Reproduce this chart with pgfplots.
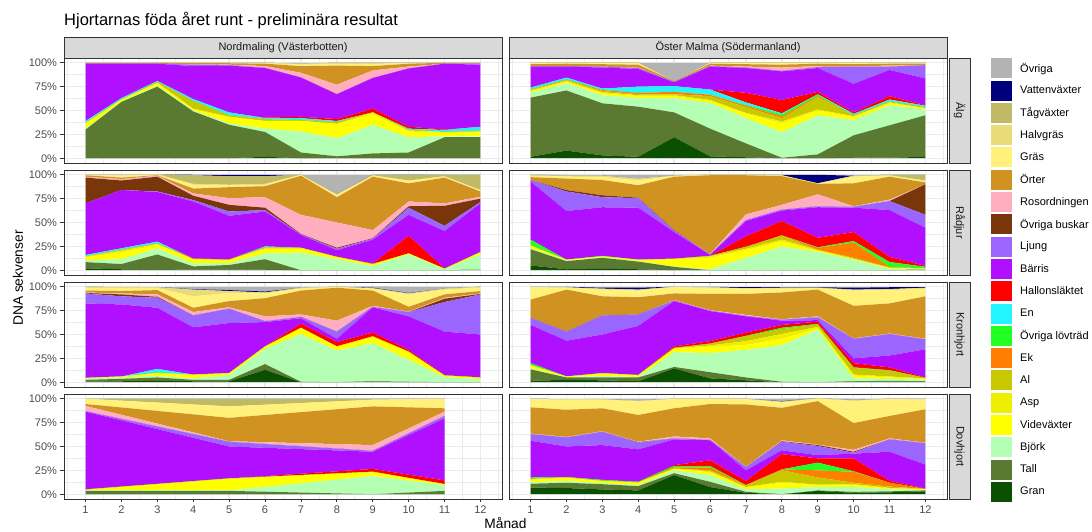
\documentclass[border=0pt]{standalone}
\usepackage{pgfplots}
\pgfplotsset{compat=1.18}
\usepackage{pgfplotstable}
\usepackage{fontspec}
\setmainfont{Liberation Sans}

% food categories, bottom of the stack first
\definecolor{cGr}{HTML}{0B5000}
\definecolor{cTa}{HTML}{5A7A32}
\definecolor{cBj}{HTML}{B4FFB4}
\definecolor{cVi}{HTML}{FFFF00}
\definecolor{cAs}{HTML}{EEEE00}
\definecolor{cAl}{HTML}{C8C800}
\definecolor{cEk}{HTML}{FF7F00}
\definecolor{cLo}{HTML}{22FF22}
\definecolor{cEn}{HTML}{22F5FF}
\definecolor{cHa}{HTML}{FF0000}
\definecolor{cBa}{HTML}{B010FF}
\definecolor{cLj}{HTML}{9B66FF}
\definecolor{cBu}{HTML}{78360A}
\definecolor{cRo}{HTML}{FFAEC0}
\definecolor{cOr}{HTML}{D09220}
\definecolor{cGs}{HTML}{FFF17A}
\definecolor{cHg}{HTML}{E8DC78}
\definecolor{cTg}{HTML}{C0B966}
\definecolor{cVa}{HTML}{00007F}
\definecolor{cOv}{HTML}{B3B3B3}
\definecolor{gridc}{HTML}{EBEBEB}
\definecolor{framec}{HTML}{333333}
\definecolor{stripc}{HTML}{D9D9D9}
\definecolor{tickc}{HTML}{4D4D4D}

% share of DNA sequences (%) per month
% Gr=Gran Ta=Tall Bj=Björk Vi=Videväxter As=Asp Al=Al Ek=Ek Lo=Övriga lövträd
% En=En Ha=Hallonsläktet Ba=Bärris Lj=Ljung Bu=Övriga buskar Ro=Rosordningen
% Or=Örter Gs=Gräs Hg=Halvgräs Tg=Tågväxter Va=Vattenväxter Ov=Övriga
\pgfplotstableread{
m  Gr  Ta   Bj  Vi  As  Al  Ek  Lo  En  Ha  Ba   Lj  Bu  Ro  Or  Gs  Hg  Tg  Va  Ov
1  0   30   1   5   1   0   0   0   2   0   60   0   0   0   1   0   0   0   0   0
2  0   59   0.5 2   0   0   0   0   1.5 0   36   0   0   0   1   0   0   0   0   0
3  0   75   1   2.5 0.5 1   0   0   1   0   18   0   0   0   1   0   0   0   0   0
4  0   49   1   1   1   8   0   0   2   0   34.5 1.5 0   0.5 1   0.5 0   0   0   0
5  0   35   1.5 6   1   1.5 0   0   3   0   49   0.5 0   0.5 1.5 0.5 0   0   0   0
6  1.5 26   3.5 8   0   2   0   0   1   0.5 52   0   0   2   2.5 1   0   0   0   0
7  0   6    22  11  0   1   0   0   2   1.5 41   0   0   5   7   1.5 1   0   0   1
8  0   2    19  15  0   2   0   0   1   2   26   0   0   10  20  1.5 1.5 0   0   0
9  0   5    30  11  2   0   0   0   0   4   32   0   0   8   4.5 2   1.5 0   0   0
10 0   6    16  6   1   1   0   0   1   2   61   0   0   2   3   1   0   0   0   0
11 0   22   1   3.5 1   0   0   0   2   0.5 69   0   0   0   1   0   0   0   0   0
12 0   22   1   4   1   1   0   0   4   0   65   1   0   0   1   0   0   0   0   0
}\tAlgN
\pgfplotstableread{
m  Gr  Ta   Bj  Vi  As  Al  Ek  Lo  En  Ha  Ba   Lj  Bu  Ro  Or  Gs  Hg  Tg  Va  Ov
1  1.5 62   5   1.5 1   1   0   0   2   0   22   0.5 0   0   2   1.5 0   0   0   0
2  8   63   7.5 1.5 1   1   0.5 0   2   0   11.5 0.5 0   0   2.5 1   0   0   0   0
3  3   54.5 8.5 2   1   1.5 1   0   1.5 0   22   1   0   0   2.5 1.5 0   0   0   0
4  1.5 52.5 9   2   1   1   1.5 0   6.5 0   18.5 1   0   0.5 3   2   0   0   0   0
5  22  26   15  2   1   1   2.5 0   6   0   4    0.5 0   0   0.5 0   0   0   0   19.5
6  2   29   27  2   1   4   1.5 0   5.5 0   24   0.5 0   0.5 2   1   0   0   0   0
7  1   14.5 26.5 4.5 1  6   1.5 1   2.5 10  26   0.5 0   1   2.5 1.5 0   0   0   0
8  0   0.5  27  9   2   3.5 2   2   1   14  30   0.5 0   3.5 3   2   0   0   0   0
9  0   4    41  5   1   13  1   1.5 0.5 2.5 25   1   0   1   2.5 1   0   0   0   0
10 0.5 23.5 16  3   1   1   0   0   1.5 1.5 30   18  0   0.5 2   1.5 0   0   0   0
11 0.5 34   21  2   1   1   0   0   2   3.5 27.5 3.5 0   1   2   1   0   0   0   0
12 1.5 43.5 6   1   0.5 1   0   0   1.5 0.5 28   14  0   0   1.5 1   0   0   0   0
}\tAlgO
\pgfplotstableread{
m  Gr  Ta   Bj  Vi  As  Al  Ek  Lo  En  Ha  Ba   Lj  Bu  Ro  Or  Gs  Hg  Tg  Va  Ov
1  2   6.5  2   3   1   0   0   0   1.5 0   54   0   27  1   1.5 0.5 0   0   0   0
2  1   5.5  5   7   2   1   0   0   1.5 0   61   0   10  1.5 1.5 2   1   0   0   0
3  1   15.5 6.5 3.5 1   0.5 0   0   2   0   52   0.5 15.5 1  0.5 0.5 0.5 0   0   0
4  0.5 3.5  3   4   0.5 0.5 0   0   0   0.5 59.5 1.5 4.5 2.5 5   4   1   9   0.5 0
5  0.5 5    2   3   0.5 0   0   0   0   0.5 45.5 4.5 7   7   11.5 2  0.5 9   1.5 0
6  0.5 11   6   4.5 1   1   0   0   1   0   36.5 1.5 2.5 11  11.5 1.5 1  8   1.5 0
7  0   0    18.5 4  1   0   0   0   0   0   13.5 0.5 0.5 20  41  1   0   0   0   0
8  0   0    11.5 2  0.5 0   0   0   0   0   7    1.5 1   26.5 26.5 2.5 0.5 0 0  20.5
9  0   0    4.5 1.5 0.5 0   0   0   0   0.5 25   1   0.5 8.5 56  1   0.5 0.5 0   0
10 0   0    16.5 1  0   0   0   0   0   18.5 22  7.5 1.5 5   19  2.5 0.5 5.5 0.5 0.5
11 0   0    1   0.5 0   0   0   0   0   0.5 39   5.5 21  2.5 27  1   0.5 1.5 0   0
12 0.5 0    16  2   0.5 0   0   0   0   0   51   1.5 3.5 2   5.5 1   0.5 16  0   0
}\tRadN
\pgfplotstableread{
m  Gr  Ta   Bj  Vi  As  Al  Ek  Lo  En  Ha  Ba   Lj  Bu  Ro  Or  Gs  Hg  Tg  Va  Ov
1  5   17   1   2   1   0   0   6   0   0   61   1.5 0   0   3   1.5 0.5 0   0   1
2  1   8.5  0.5 1   0   0   0   0   0   0   51   20.5 1.5 0  12  2   1   0   0   1
3  1.5 11.5 0.5 1   0   0   0   0.5 0   0   51   10.5 2  0   16  3   1.5 0   0   1
4  1   8    0.5 1.5 0   0   0   0   0   0   54.5 10  0.5 0   13  5   2   0   0   4
5  0   3.5  0.5 7.5 0.5 0   0   0   0   0   28   1.5 0.5 0   56  1   0   0   0   1
6  0   0    1   12  1.5 0.5 0   0   0   0   1    0.5 0   0.5 82.5 0.5 0  0   0   0
7  0   0    13  8   1.5 2   0   0   0   11  16   1   0   6   41  0.5 0   0   0   0
8  0   0    25  5   2   4   0.5 0   0   15  11   1   0   5   30  0.5 0.5 0   0.5 0
9  0   0    19  1   1   0.5 2   0.5 0   10  32   1   0   12.5 11 0.5 0   0   9   0
10 0   0    11  0.5 0.5 1   16  1.5 0   9.5 25.5 1   0   0.5 24  7   1   0   0   1
11 0   0    1.5 0.5 0.5 0.5 0.5 5   0   5.5 49   9.5 0   1.5 24  1   0.5 0.5 0   0
12 0.5 0    1   0.5 0   0   0   1.5 0   1   40   13.5 32 0   2   1   1   6   0   0
}\tRadO
\pgfplotstableread{
m  Gr  Ta   Bj  Vi  As  Al  Ek  Lo  En  Ha  Ba   Lj  Bu  Ro  Or  Gs  Hg  Tg  Va  Ov
1  0.5 2    1.5 0.5 0   0   0   0   0   0   78   10.5 0.5 0.5 2  3   1   0   0   0
2  1   2.5  1.5 1   0   0   0   0   0   0   75.5 8.5 2   1   2.5 3   1   0   0   0.5
3  1.5 3.5  1.5 2.5 1   0   0   0   4   0   64   10.5 1  2.5 4.5 2   1   0   0   0
4  1   1.5  1.5 3.5 0.5 0   0   0   0   0   49.5 12.5 0  3.5 4.5 12  7   0   0.5 2.5
5  1   1.5  5   2   0   0   0   0   0   0   52.5 15  0   1.5 6.5 8.5 2   0   1   3.5
6  13  6    16  2   0.5 0   0   0   0   0   25.5 1   0   5   19  5   1   0   1   5
7  0   0.5  50  6   0.5 0   0   0   0   4.5 5.5  1.5 0   2.5 25  2   1   0   0   1
8  0   0    33  4   0.5 0   0   0   0   4.5 3.5  7.5 0   11.5 34.5 1 0   0   0   0
9  0.5 0.5  40  5.5 1.5 0   0   0   0   4   26.5 0.5 0   1   16  2   0.5 0   0.5 1.5
10 0   0.5  23  7.5 1   0   0   0   0   2   35   4.5 0   0.5 5   13  1   0   0.5 6.5
11 0   0    5.5 1.5 0   0   0   0   0   0.5 45.5 31  3.5 1   3.5 5   1   0   0   2
12 0   0    3   1.5 0.5 0   0   0   0   0   45   42  0.5 0.5 2.5 3.5 1   0   0   0
}\tKroN
\pgfplotstableread{
m  Gr  Ta   Bj  Vi  As  Al  Ek  Lo  En  Ha  Ba   Lj  Bu  Ro  Or  Gs  Hg  Tg  Va  Ov
1  1.5 12   1   3   0.5 0   0   2   0   0   40   7.5 0   0   19  13  0.5 0   0   0
2  2.5 2.5  0.5 0.5 0   0   0   0   0   0   37.5 9.5 0   0   44  2   0.5 0   0.5 0
3  2   3    1.5 2.5 0.5 0   0   0   0   0   40.5 20  0   0   20  7   1   0   1   1
4  1   4    0.5 1.5 0.5 0   0   0   0   0   51.5 12  0   0   18  7   1   0   2   1
5  14.5 1.5 15.5 3.5 0.5 0.5 0  0   0   1.5 47.5 0.5 0   0.5 7   6.5 0.5 0   0   0
6  4   6.5  20  6.5 1.5 1.5 0.5 0   0   2.5 31.5 0.5 0   0.5 17  6.5 0.5 0   0.5 0
7  2   3    29  5   4   5   0   0.5 0   3.5 17   0.5 0   1   22  5.5 0.5 0   1   0.5
8  0   0.5  38.5 6.5 5  5   0   1.5 0   3   4.5  1   0   0.5 28  4   1   0   0.5 0.5
9  0   0    55  1.5 1.5 2.5 0   0.5 0   2.5 1.5  3   0   1   28  1.5 0.5 0   0.5 0.5
10 0.5 0.5  3   3   1   7   0   0.5 0   4.5 5    20.5 0  0.5 34  16  1   0   2   1
11 0.5 1    2   1.5 1   6   0   0.5 0   3   12.5 22.5 0  0.5 31.5 14 1   0   2   0.5
12 0.5 0.5  1.5 1   0.5 0.5 0   0   0   0.5 29.5 10.5 0  0.5 44.5 8  1   0   0.5 0.5
}\tKroO
\pgfplotstableread{
m  Gr  Ta   Bj  Vi  As  Al  Ek  Lo  En  Ha  Ba   Lj  Bu  Ro  Or  Gs  Hg  Tg  Va  Ov
1  0   3.5  0.5 0.5 0.5 0   0   0   0   0   81.5 0.5 0   5.5 2   5.5 0   0   0   0
5  0   3.5  0.5 12  0.5 0   0   0   0   0   33.5 5   0   0.5 24.5 12 0   8   0   0
9  0   0    19  4   0.5 0   0   0   0   3   18   1   0   6   40.5 7  0   1   0   0
11 0   3.5  6   1   0   0   0   0   0   4   65   2.5 0   4.5 3.5 10  0   0   0   0
}\tDovN
\pgfplotstableread{
m  Gr  Ta   Bj  Vi  As  Al  Ek  Lo  En  Ha  Ba   Lj  Bu  Ro  Or  Gs  Hg  Tg  Va  Ov
1  7   4    1.5 2.5 1   0   0   1.5 0   0   38.5 7   0   0.5 27.5 8.5 0.5 0  0   0
2  6.5 5.5  2   3   0.5 0.5 0   0   0   0   32   9.5 0   0.5 28.5 10.5 0.5 0 0   0
3  5   5.5  1   2   0.5 0   0   1   0   0   36.5 14  0   0.5 24  9   0.5 0   0   0.5
4  4   4.5  1   2.5 0.5 0   0   0.5 0   0   34   7   0.5 0.5 28  14  1   0   0   2
5  20  2    3   1.5 0.5 0   1   1.5 0   1   27   1   0   2   29.5 10 0   0   0   0
6  7.5 5.5  7   3   1   1   3   1.5 0   6   21   0.5 0   1.5 36  5.5 0   0   0   0
7  1.5 1    2.5 2   0.5 2   0   0   0   4.5 11   3.5 0   0.5 65  5.5 0.5 0   0   0
8  0   0    6   6   1   12  1   0   0   16  4    9   0.5 1   34  5.5 1   0   0.5 2.5
9  3.5 0.5  3.5 2   0.5 7.5 7.5 8   0   4.5 3.5  9.5 1   0.5 45.5 2.5 0.5 0  0   0
10 1.5 1    5   2   1   1.5 11.5 0.5 0  13.5 5   1   1   2   28  23  1   0   0   1.5
11 2   1    2   1   0.5 1.5 4   0   0   2   30.5 13  0   1   23.5 17.5 0.5 0 0   0
12 3   1    0.5 0.5 0.5 0   0   0   0   0.5 25   22.5 0  0.5 35  10  1   0   0   0
}\tDovO

% all twenty categories of one panel, stacked from Gran upwards
\newcommand\stackall[1]{%
  \addplot[draw=none,fill=cGr] table[x=m,y=Gr]{#1} \closedcycle;
  \addplot[draw=none,fill=cTa] table[x=m,y=Ta]{#1} \closedcycle;
  \addplot[draw=none,fill=cBj] table[x=m,y=Bj]{#1} \closedcycle;
  \addplot[draw=none,fill=cVi] table[x=m,y=Vi]{#1} \closedcycle;
  \addplot[draw=none,fill=cAs] table[x=m,y=As]{#1} \closedcycle;
  \addplot[draw=none,fill=cAl] table[x=m,y=Al]{#1} \closedcycle;
  \addplot[draw=none,fill=cEk] table[x=m,y=Ek]{#1} \closedcycle;
  \addplot[draw=none,fill=cLo] table[x=m,y=Lo]{#1} \closedcycle;
  \addplot[draw=none,fill=cEn] table[x=m,y=En]{#1} \closedcycle;
  \addplot[draw=none,fill=cHa] table[x=m,y=Ha]{#1} \closedcycle;
  \addplot[draw=none,fill=cBa] table[x=m,y=Ba]{#1} \closedcycle;
  \addplot[draw=none,fill=cLj] table[x=m,y=Lj]{#1} \closedcycle;
  \addplot[draw=none,fill=cBu] table[x=m,y=Bu]{#1} \closedcycle;
  \addplot[draw=none,fill=cRo] table[x=m,y=Ro]{#1} \closedcycle;
  \addplot[draw=none,fill=cOr] table[x=m,y=Or]{#1} \closedcycle;
  \addplot[draw=none,fill=cGs] table[x=m,y=Gs]{#1} \closedcycle;
  \addplot[draw=none,fill=cHg] table[x=m,y=Hg]{#1} \closedcycle;
  \addplot[draw=none,fill=cTg] table[x=m,y=Tg]{#1} \closedcycle;
  \addplot[draw=none,fill=cVa] table[x=m,y=Va]{#1} \closedcycle;
  \addplot[draw=none,fill=cOv] table[x=m,y=Ov]{#1} \closedcycle;
}

\pgfplotsset{
  panel/.style={
    width=438pt, height=105pt, scale only axis,
    anchor=south west,
    xmin=0.4, xmax=12.6, ymin=-5, ymax=105,
    stack plots=y,
    axis line style={draw=framec, line width=0.9pt},
    xtick={1,...,12}, ytick={0,25,50,75,100},
    minor xtick={0.5,1.5,...,12.5},
    minor ytick={12.5,37.5,62.5,87.5},
    grid=both,
    major grid style={draw=gridc, line width=1.4pt},
    minor grid style={draw=gridc, line width=0.7pt},
    tick align=outside, tick pos=left,
    major tick length=3.5pt, minor tick length=0pt,
    xticklabels={}, yticklabels={},
    xtick style={draw=none}, ytick style={draw=none},
    ticklabel style={font=\fontsize{11}{13}\selectfont, text=tickc},
  },
  leftcol/.style={
    yticklabels={0\%,25\%,50\%,75\%,100\%},
    ytick style={draw=framec, line width=0.9pt},
  },
  bottomrow/.style={
    xticklabels={1,2,3,4,5,6,7,8,9,10,11,12},
    xtick style={draw=framec, line width=0.9pt},
  },
}

\begin{document}
\begin{tikzpicture}[x=1pt,y=1pt]
\path[use as bounding box] (0,0) rectangle (1092,532);

% row 1: Älg
\begin{axis}[panel, leftcol, at={(64pt,369pt)}]
\stackall{\tAlgN}
\end{axis}
\begin{axis}[panel, at={(509pt,369pt)},
  legend style={at={(1.1005,1)}, anchor=north west, draw=none, fill=none,
    inner xsep=0pt, inner ysep=0pt, row sep=2.3pt, column sep=8pt,
    nodes={inner sep=0pt, font=\fontsize{11}{13}\selectfont, text=black}},
  legend cell align=left, reverse legend,
  legend image code/.code={\fill[#1] (0pt,-10pt) rectangle (21pt,10pt);}]
\stackall{\tAlgO}
\legend{Gran,Tall,Björk,Videväxter,Asp,Al,Ek,Övriga lövträd,En,Hallonsläktet,Bärris,Ljung,Övriga buskar,Rosordningen,Örter,Gräs,Halvgräs,Tågväxter,Vattenväxter,Övriga}
\end{axis}

% row 2: Rådjur
\begin{axis}[panel, leftcol, at={(64pt,257pt)}]
\stackall{\tRadN}
\end{axis}
\begin{axis}[panel, at={(509pt,257pt)}]
\stackall{\tRadO}
\end{axis}

% row 3: Kronhjort
\begin{axis}[panel, leftcol, at={(64pt,145pt)}]
\stackall{\tKroN}
\end{axis}
\begin{axis}[panel, at={(509pt,145pt)}]
\stackall{\tKroO}
\end{axis}

% row 4: Dovhjort
\begin{axis}[panel, leftcol, bottomrow, at={(64pt,33pt)}]
\stackall{\tDovN}
\end{axis}
\begin{axis}[panel, bottomrow, at={(509pt,33pt)}]
\stackall{\tDovO}
\end{axis}

% facet strips
\tikzset{strip/.style={draw=framec, line width=0.9pt, fill=stripc, inner sep=0pt,
  font=\fontsize{11}{13}\selectfont, text=black!90}}
\node[strip, minimum width=438pt, minimum height=21pt] at (283,484.5) {Nordmaling (Västerbotten)};
\node[strip, minimum width=438pt, minimum height=21pt] at (728,484.5) {Öster Malma (Södermanland)};
\node[strip, minimum width=21pt, minimum height=105pt] at (959.5,421.5) {\rotatebox{-90}{Älg}};
\node[strip, minimum width=21pt, minimum height=105pt] at (959.5,309.5) {\rotatebox{-90}{Rådjur}};
\node[strip, minimum width=21pt, minimum height=105pt] at (959.5,197.5) {\rotatebox{-90}{Kronhjort}};
\node[strip, minimum width=21pt, minimum height=105pt] at (959.5,85.5) {\rotatebox{-90}{Dovhjort}};

% titles
\node[anchor=base west, inner sep=0pt, font=\fontsize{16.5}{19}\selectfont] at (64,506) {Hjortarnas föda året runt - preliminära resultat};
\node[rotate=90, inner sep=0pt, font=\fontsize{13.75}{16}\selectfont] at (18,254) {DNA sekvenser};
\node[inner sep=0pt, font=\fontsize{13.75}{16}\selectfont] at (505.5,9) {Månad};
\end{tikzpicture}
\end{document}
